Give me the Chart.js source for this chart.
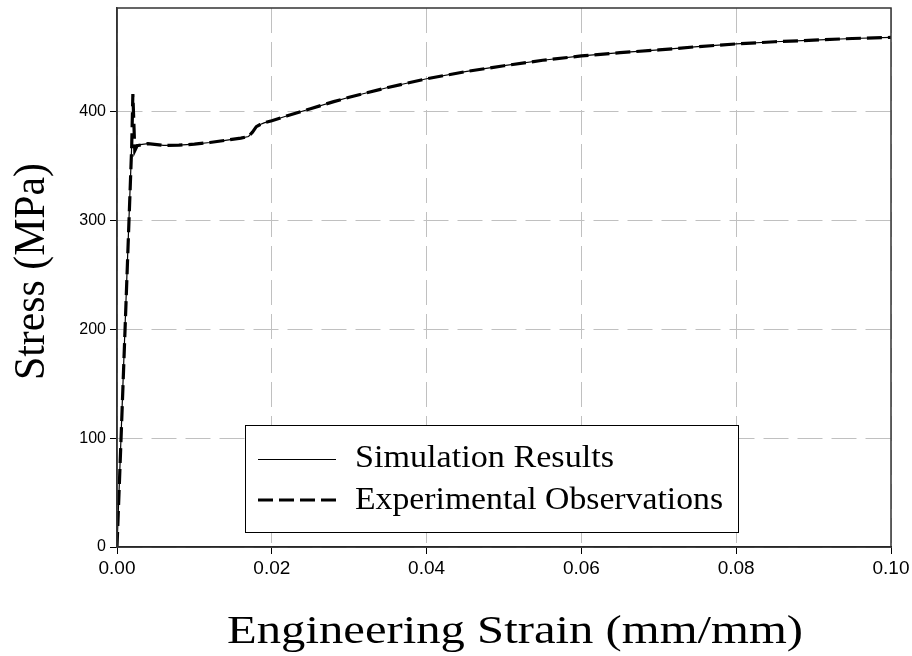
<!DOCTYPE html>
<html><head><meta charset="utf-8">
<script src="https://cdn.jsdelivr.net/npm/chart.js@4/dist/chart.umd.min.js"></script>
<style>html,body{margin:0;padding:0;background:#fff}#wrap{width:912px;height:656px;position:relative}</style>
</head><body><div id="wrap"><canvas id="c" width="912" height="656"></canvas></div>
<script>
// ---- data ----
const simStrain = [0, 0.0005, 0.001, 0.0015, 0.0019, 0.0025, 0.004, 0.006, 0.008, 0.010, 0.012, 0.014, 0.016, 0.017, 0.0175, 0.018, 0.0185, 0.019, 0.020, 0.022, 0.025, 0.028, 0.030, 0.035, 0.040, 0.045, 0.050, 0.055, 0.060, 0.065, 0.070, 0.075, 0.080, 0.085, 0.090, 0.095, 0.100];
const simStress = [0, 97, 195, 292, 369, 369, 370.5, 368.8, 369, 370, 371.5, 373.5, 375.5, 377, 381, 386, 388, 389.5, 391.5, 396, 402.5, 409, 413, 422, 430, 436.5, 442, 447, 451, 454, 456.5, 459.5, 462, 464, 465.5, 467, 468];
const expStrain = [0, 0.0005, 0.001, 0.0015, 0.0019, 0.00205, 0.0023, 0.0026, 0.004, 0.006, 0.008, 0.010, 0.012, 0.014, 0.016, 0.017, 0.0175, 0.018, 0.0185, 0.019, 0.020, 0.022, 0.025, 0.028, 0.030, 0.035, 0.040, 0.045, 0.050, 0.055, 0.060, 0.065, 0.070, 0.075, 0.080, 0.085, 0.090, 0.095, 0.100];
const expStress = [0, 95, 192, 290, 368, 416, 364, 368.5, 370.5, 368.8, 369, 370, 371.5, 373.5, 375.5, 377, 381, 386, 388, 389.5, 391.5, 396, 402.5, 409, 413, 422, 430, 436.5, 442, 447, 451, 454, 456.5, 459.5, 462, 464, 465.5, 467, 468];
const xTicks = [0, 0.02, 0.04, 0.06, 0.08, 0.10];
const yTicks = [0, 100, 200, 300, 400];
const seriesNames = ['Simulation Results', 'Experimental Observations'];
const xTitle = 'Engineering Strain (mm/mm)';
const yTitle = 'Stress (MPa)';

const pts = (xs, ys) => xs.map((x, i) => ({x: x, y: ys[i]}));

const serif = '"Liberation Serif", "Times New Roman", serif';
const sans = '"Liberation Sans", Arial, sans-serif';

// draws text stretched/compressed along its direction so it fills a target length
function fitText(ctx, text, x, y, size, targetWidth, rot, align) {
  ctx.save();
  ctx.font = size + 'px ' + serif;
  const w = ctx.measureText(text).width;
  const k = targetWidth ? targetWidth / w : 1;
  ctx.translate(x, y);
  if (rot) ctx.rotate(rot);
  ctx.scale(k, 1);
  ctx.textAlign = align || 'left';
  ctx.textBaseline = 'alphabetic';
  ctx.fillStyle = '#000';
  ctx.fillText(text, 0, 0);
  ctx.restore();
}

const boxPlugin = {
  id: 'boxAndLegend',
  afterDraw(chart) {
    const ctx = chart.ctx, a = chart.chartArea;
    ctx.save();
    ctx.strokeStyle = '#333';
    ctx.lineWidth = 1.5;
    ctx.setLineDash([]);
    ctx.strokeRect(a.left, a.top, a.right - a.left, a.bottom - a.top);
    // axis titles
    fitText(ctx, xTitle, 515, 643, 39, 576, 0, 'center');
    fitText(ctx, yTitle, 44, 271.5, 44, 217, -Math.PI / 2, 'center');
    // legend inside plot
    const lx = 245.5, ly = 425.5, lw = 493, lh = 107;
    ctx.fillStyle = '#fff';
    ctx.fillRect(lx, ly, lw, lh);
    ctx.strokeStyle = '#000';
    ctx.lineWidth = 1;
    ctx.strokeRect(lx, ly, lw, lh);
    const ds = chart.data.datasets;
    const rows = [459.5, 500];
    const base = [467, 509];
    const widths = [259, 368];
    ds.forEach((d, i) => {
      ctx.beginPath();
      ctx.strokeStyle = d.borderColor;
      ctx.lineWidth = i === 0 ? 1 : d.borderWidth;
      ctx.setLineDash(d.borderDash || []);
      ctx.moveTo(258, rows[i]);
      ctx.lineTo(336, rows[i]);
      ctx.stroke();
      ctx.setLineDash([]);
      fitText(ctx, d.label, 355, base[i], 31, widths[i], 0, 'left');
    });
    ctx.restore();
  }
};

new Chart(document.getElementById('c'), {
  type: 'line',
  data: {
    datasets: [
      { label: seriesNames[0], data: pts(simStrain, simStress), borderColor: '#000', borderWidth: 1.2, pointRadius: 0, tension: 0, fill: false, order: 1 },
      { label: seriesNames[1], data: pts(expStrain, expStress), borderColor: '#000', borderWidth: 3.2, borderDash: [15, 6], pointRadius: 0, tension: 0, fill: false, order: 0 }
    ]
  },
  options: {
    responsive: false,
    animation: false,
    devicePixelRatio: 1,
    layout: { padding: { top: 8, right: 21, left: 0, bottom: 0 } },
    plugins: { legend: { display: false }, tooltip: { enabled: false } },
    scales: {
      x: {
        type: 'linear', min: 0, max: 0.1,
        afterFit: s => { s.height = 109; s.paddingLeft = 0; s.paddingRight = 0; },
        afterBuildTicks: s => { s.ticks = xTicks.map(v => ({value: v})); },
        ticks: { color: '#000', font: { family: sans, size: 19 }, padding: 3, maxRotation: 0, callback: v => Number(v).toFixed(2) },
        grid: { color: '#c0c0c0', lineWidth: 1, tickLength: 7, tickColor: '#000', tickWidth: 1 },
        border: { display: true, color: '#000', width: 1.5, dash: [25, 9] },
        title: { display: false, text: xTitle }
      },
      y: {
        type: 'linear', min: 0, max: 495,
        afterFit: s => { s.width = 117; s.paddingTop = 0; s.paddingBottom = 0; },
        afterBuildTicks: s => { s.ticks = yTicks.map(v => ({value: v})); },
        ticks: { color: '#000', font: { family: sans, size: 16 }, padding: 4, includeBounds: false, callback: v => String(v) },
        grid: { color: '#c0c0c0', lineWidth: 1, tickLength: 7, tickColor: '#000', tickWidth: 1 },
        border: { display: true, color: '#333', width: 1.5, dash: [25, 9] },
        title: { display: false, text: yTitle }
      }
    }
  },
  plugins: [boxPlugin]
});
</script></body></html>
